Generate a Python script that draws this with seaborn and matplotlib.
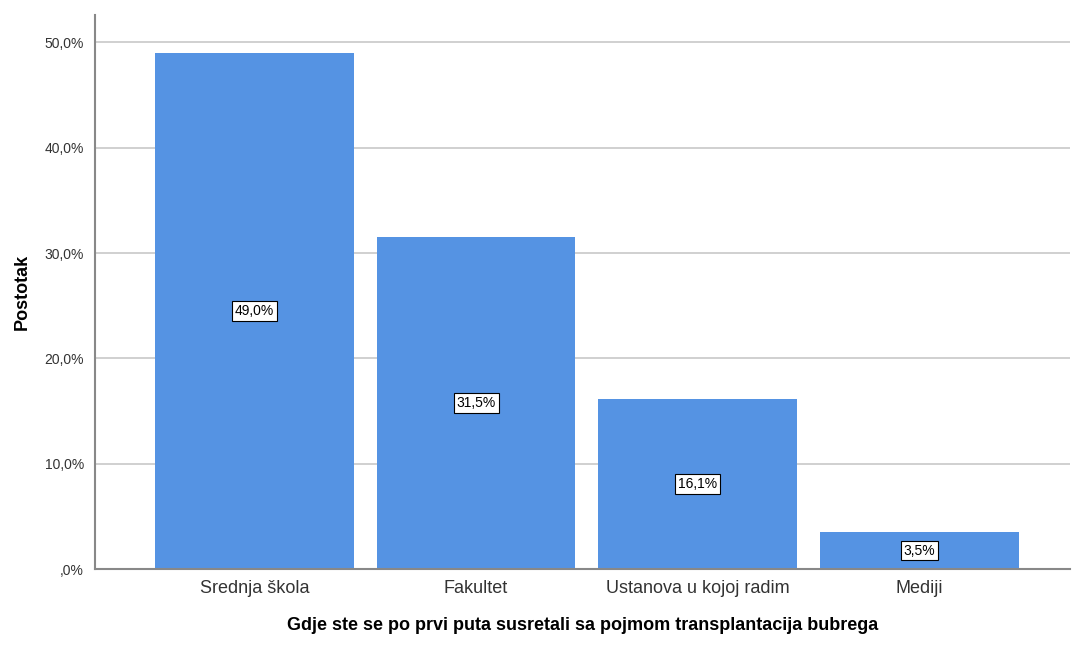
import pandas as pd
import seaborn as sns
from matplotlib import pyplot as plt

# podaci
kategorije = ['Srednja škola', 'Fakultet', 'Ustanova u kojoj radim', 'Mediji']
postotak = [49.0, 31.5, 16.1, 3.5]
yticks = [0, 10, 20, 30, 40, 50]
ytick_labels = [',0%', '10,0%', '20,0%', '30,0%', '40,0%', '50,0%']

df = pd.DataFrame({'kategorija': kategorije, 'postotak': postotak})

sns.set_style('white')
plt.rcParams['font.family'] = ['Liberation Sans', 'DejaVu Sans']

fig = plt.figure(figsize=(10.72, 6.45), dpi=100)
ax = fig.add_axes([0.0886, 0.1178, 0.9095, 0.8589])

sns.barplot(data=df, x='kategorija', y='postotak', color='#5593E3', saturation=1,
            width=0.897, linewidth=0, ax=ax, zorder=2)

for i, v in enumerate(postotak):
    ax.text(i, v / 2, f'{v:.1f}%'.replace('.', ','), ha='center', va='center', fontsize=10,
            color='black', zorder=3,
            bbox=dict(boxstyle='square,pad=0.2', facecolor='white', edgecolor='black', linewidth=0.8))

ax.set_xlim(-0.72, 3.68)
ax.set_ylim(0, 52.6)
ax.set_yticks(yticks)
ax.set_yticklabels(ytick_labels, fontsize=10, color='#333333')
ax.tick_params(axis='x', labelsize=13, colors='#333333', length=0, pad=8)
ax.tick_params(axis='y', length=0, pad=8)
ax.yaxis.grid(True, color='#C8C8C8', linewidth=1.2, zorder=0)
ax.set_axisbelow(True)

for s in ['top', 'right']:
    ax.spines[s].set_visible(False)
for s in ['left', 'bottom']:
    ax.spines[s].set_color('#888888')
    ax.spines[s].set_linewidth(1.5)

plt.xlabel('Gdje ste se po prvi puta susretali sa pojmom transplantacija bubrega',
           fontsize=13, fontweight='bold', labelpad=14, color='black')
plt.ylabel('Postotak', fontsize=13, fontweight='bold', labelpad=10, color='black')

plt.savefig('out.png', dpi=100)
